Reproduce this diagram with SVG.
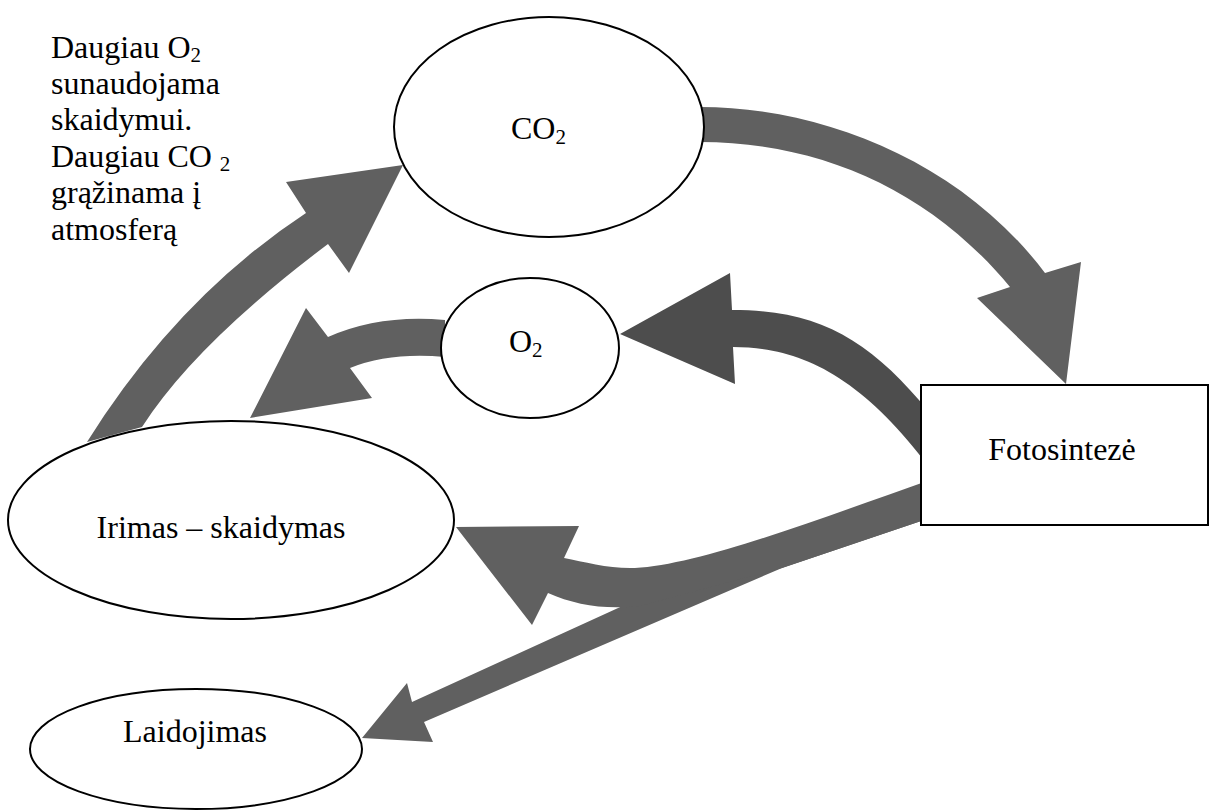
<svg xmlns="http://www.w3.org/2000/svg" width="1210" height="810" viewBox="0 0 1210 810">
<rect width="1210" height="810" fill="#fff"/>
<g id="connectors" fill="#606060">
<path d="M87,442 Q177,298 306,213 L286,182 L403,165 L349,273 L328,244 Q195,344 142,427 Z"/>
<path d="M445,320 Q380,314 328,337 L306,308 L250,418 L372,398 L350,368 Q390,352 445,357 Z"/>
<path d="M700,107 C820,107 960,160 1045,273 L1081,262 L1066,384 L977,298 L1010,287 C930,190 820,142 700,142 Z"/>
<path fill="#4d4d4d" d="M930,413 C870,340 820,310 732,310 L730,273 L620,334 L735,384 L733,347 C800,347 860,375 930,468 Z"/>
<path d="M930,490 L930,518 L782,568 L424,722 L433,742 L362,738 L407,683 L412,702 L640,598 Z"/>
<path d="M930,480 C830,515 700,565 635,568 C610,569 585,562 564,558 L579,526 L456,527 L532,625 L548,593 C575,605 605,610 640,606 L782,568 L930,518 Z"/>
</g>
<g id="note">
<text x="51" y="58" font-family="Liberation Serif" font-size="32">Daugiau O<tspan font-size="21" dy="4">2</tspan></text>
<text x="51" y="94" font-family="Liberation Serif" font-size="32">sunaudojama</text>
<text x="51" y="130" font-family="Liberation Serif" font-size="32">skaidymui.</text>
<text x="51" y="167" font-family="Liberation Serif" font-size="32">Daugiau CO <tspan font-size="21" dy="4">2</tspan></text>
<text x="51" y="203" font-family="Liberation Serif" font-size="32">grąžinama į</text>
<text x="51" y="240" font-family="Liberation Serif" font-size="32">atmosferą</text>
</g>
<g id="node-co2">
<ellipse cx="549" cy="127" rx="155" ry="110" fill="#fff" stroke="#000" stroke-width="2"/>
<text x="511" y="139" font-family="Liberation Serif" font-size="32">CO<tspan font-size="21" dy="5">2</tspan></text>
</g>
<g id="node-o2">
<ellipse cx="530" cy="348" rx="89" ry="70" fill="#fff" stroke="#000" stroke-width="2"/>
<text x="509" y="352" font-family="Liberation Serif" font-size="32">O<tspan font-size="21" dy="5">2</tspan></text>
</g>
<g id="node-fotosinteze">
<rect x="921" y="385" width="287" height="140" fill="#fff" stroke="#000" stroke-width="2"/>
<text x="1062" y="460" text-anchor="middle" font-family="Liberation Serif" font-size="32">Fotosintezė</text>
</g>
<g id="node-irimas">
<ellipse cx="231" cy="520" rx="223" ry="99" fill="#fff" stroke="#000" stroke-width="2"/>
<text x="221" y="538" text-anchor="middle" font-family="Liberation Serif" font-size="32">Irimas – skaidymas</text>
</g>
<g id="node-laidojimas">
<ellipse cx="196" cy="749" rx="166" ry="60" fill="#fff" stroke="#000" stroke-width="2"/>
<text x="195" y="742" text-anchor="middle" font-family="Liberation Serif" font-size="32">Laidojimas</text>
</g>
</svg>
